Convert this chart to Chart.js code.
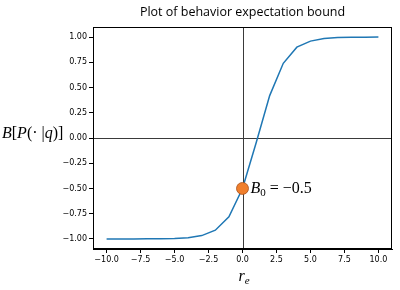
<!DOCTYPE html>
<html>
<head>
<meta charset="utf-8">
<script src="https://cdn.jsdelivr.net/npm/chart.js@4"></script>
<style>
  html, body { margin: 0; padding: 0; background: #fff; }
  #wrap { width: 400px; height: 290px; }
</style>
</head>
<body>
<div id="wrap"><canvas id="chart" width="400" height="290"></canvas></div>
<script>
// r_e values and bound values
const rE = [-10, -9, -8, -7, -6, -5, -4, -3, -2, -1, 0, 1, 2, 3, 4, 5, 6, 7, 8, 9, 10];
const bound = [-1.0, -1.0, -1.0, -0.999, -0.998, -0.995, -0.988, -0.967, -0.914, -0.78, -0.5,
  -0.05, 0.42, 0.74, 0.9, 0.96, 0.985, 0.995, 0.998, 0.999, 1.0];
const b0 = { x: 0, y: -0.5 };
const xTicks = [-10, -7.5, -5, -2.5, 0, 2.5, 5, 7.5, 10];
const yTicks = [-1, -0.75, -0.5, -0.25, 0, 0.25, 0.5, 0.75, 1];

const fmt = (v, d) => v.toFixed(d).replace("-", "\u2212");
const SERIF = "'Liberation Serif'";

const textPlugin = {
  id: "texts",
  beforeDatasetsDraw(chart) {
    const { ctx, chartArea: a, scales } = chart;
    ctx.save();
    // crosshair at zero
    ctx.strokeStyle = "#3a3a3a";
    ctx.lineWidth = 1;
    const x0 = Math.round(scales.x.getPixelForValue(0)) + 0.5;
    const y0 = Math.round(scales.y.getPixelForValue(0)) + 0.5;
    ctx.beginPath();
    ctx.moveTo(x0, a.top); ctx.lineTo(x0, a.bottom);
    ctx.moveTo(a.left, y0); ctx.lineTo(a.right, y0);
    ctx.stroke();
    ctx.restore();
  },
  afterDraw(chart) {
    const { ctx, chartArea: a, scales } = chart;
    ctx.save();
    // frame
    ctx.strokeStyle = "#000";
    ctx.lineWidth = 1;
    ctx.strokeRect(Math.round(a.left) + 0.5, Math.round(a.top) + 0.5,
      Math.round(a.right - a.left) - 1, Math.round(a.bottom - a.top) - 1);

    ctx.fillStyle = "#000";
    // title
    ctx.font = "12.5px 'Open Sans'";
    ctx.textAlign = "center";
    ctx.textBaseline = "alphabetic";
    ctx.fillText("Plot of behavior expectation bound", (a.left + a.right) / 2, 16);

    // y label B[P(· |q)]
    const parts = [
      ["B", true], ["[", false], ["P", true], ["(\u00b7 |", false], ["q", true], [")]", false]
    ];
    let x = 2;
    const yl = 138;
    ctx.textAlign = "left";
    for (const [t, it] of parts) {
      ctx.font = (it ? "italic " : "") + "16px " + SERIF;
      ctx.fillText(t, x, yl);
      x += ctx.measureText(t).width;
    }

    // x label r_e
    const xc = (a.left + a.right) / 2 - 4;
    ctx.font = "italic 16px " + SERIF;
    ctx.fillText("r", xc, 281);
    const rw = ctx.measureText("r").width;
    ctx.font = "italic 11px " + SERIF;
    ctx.fillText("e", xc + rw, 284);

    // annotation B_0 = −0.5
    const px = scales.x.getPixelForValue(b0.x) + 8;
    const py = scales.y.getPixelForValue(b0.y) + 5;
    ctx.font = "italic 16px " + SERIF;
    ctx.fillText("B", px, py);
    let w = ctx.measureText("B").width;
    ctx.font = "11px " + SERIF;
    ctx.fillText("0", px + w, py + 3);
    w += ctx.measureText("0").width;
    ctx.font = "16px " + SERIF;
    ctx.fillText(" = \u22120.5", px + w, py);
    ctx.restore();
  }
};

new Chart(document.getElementById("chart"), {
  type: "line",
  data: {
    datasets: [
      {
        data: rE.map((v, i) => ({ x: v, y: bound[i] })),
        borderColor: "#1f77b4",
        borderWidth: 1.5,
        pointRadius: 0,
        tension: 0,
        fill: false,
        order: 2
      },
      {
        type: "scatter",
        data: [b0],
        backgroundColor: "#f07f2c",
        borderColor: "#a8501a",
        borderWidth: 0.8,
        pointRadius: 6,
        order: 1
      }
    ]
  },
  options: {
    responsive: false,
    animation: false,
    layout: { padding: { top: 27, right: 8, left: 0, bottom: 0 } },
    plugins: { legend: { display: false }, tooltip: { enabled: false } },
    scales: {
      x: {
        type: "linear",
        min: -11,
        max: 11,
        afterBuildTicks: (s) => { s.ticks = xTicks.map(v => ({ value: v })); },
        afterFit: (s) => { s.height = 41; },
        grid: { drawOnChartArea: false, tickLength: 4, tickColor: "#000" },
        border: { color: "#000" },
        ticks: {
          color: "#000",
          padding: 2,
          maxRotation: 0,
          font: { family: "'DejaVu Sans'", size: 8 },
          callback: (v) => fmt(v, 1)
        }
      },
      y: {
        min: -1.1,
        max: 1.1,
        afterBuildTicks: (s) => { s.ticks = yTicks.map(v => ({ value: v })); },
        afterFit: (s) => { s.width = 93; },
        grid: { drawOnChartArea: false, tickLength: 4, tickColor: "#000" },
        border: { color: "#000" },
        ticks: {
          color: "#000",
          padding: 2,
          font: { family: "'DejaVu Sans'", size: 8 },
          callback: (v) => fmt(v, 2)
        }
      }
    }
  },
  plugins: [textPlugin]
});
</script>
</body>
</html>
